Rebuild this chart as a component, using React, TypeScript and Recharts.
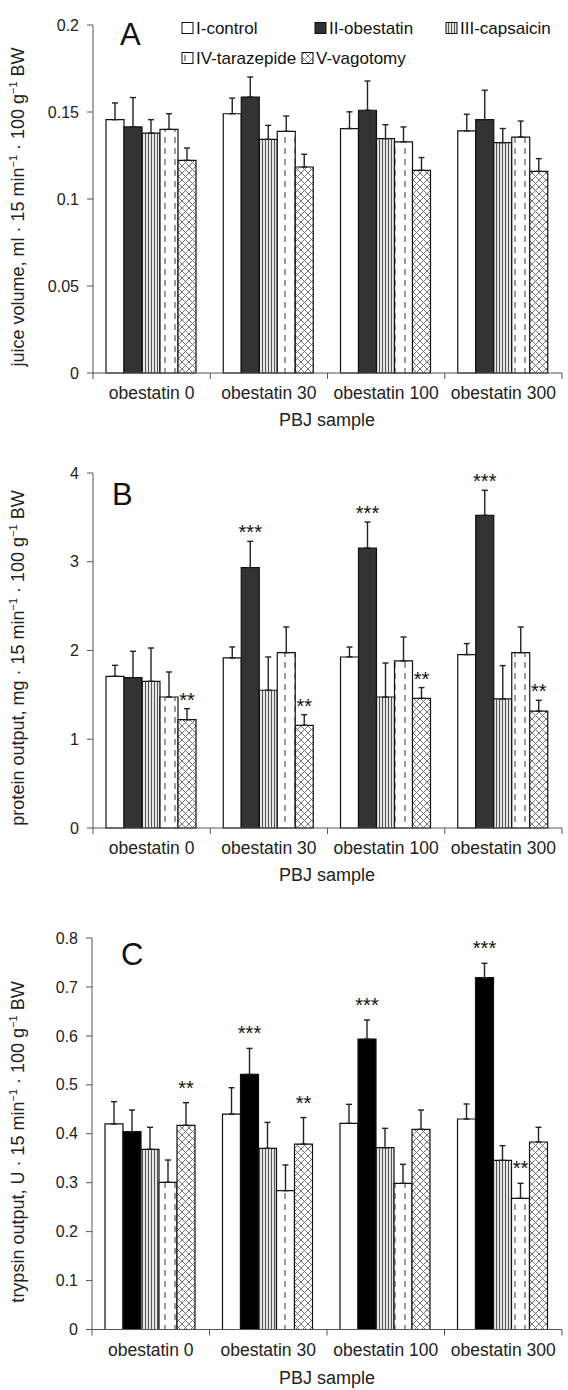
import React from 'react';
import { BarChart, Bar, XAxis, YAxis, ErrorBar, LabelList } from 'recharts';

const categories = ['obestatin 0', 'obestatin 30', 'obestatin 100', 'obestatin 300'];
const groups = ['I-control', 'II-obestatin', 'III-capsaicin', 'IV-tarazepide', 'V-vagotomy'];

// A - juice volume
const juiceControl = [0.1456, 0.149, 0.1405, 0.1391];
const juiceObestatin = [0.1414, 0.1586, 0.151, 0.1456];
const juiceCapsaicin = [0.1379, 0.1343, 0.1347, 0.1324];
const juiceTarazepide = [0.14, 0.1389, 0.1328, 0.1356];
const juiceVagotomy = [0.1222, 0.1184, 0.1165, 0.1159];
const juiceControlErr = [0.0096, 0.009, 0.0096, 0.0096];
const juiceObestatinErr = [0.0169, 0.0115, 0.0168, 0.0169];
const juiceCapsaicinErr = [0.0077, 0.008, 0.008, 0.0081];
const juiceTarazepideErr = [0.009, 0.0088, 0.0086, 0.0092];
const juiceVagotomyErr = [0.0071, 0.0073, 0.0073, 0.0073];

// B - protein output
const proteinControl = [1.709, 1.916, 1.927, 1.954];
const proteinObestatin = [1.694, 2.934, 3.155, 3.523];
const proteinCapsaicin = [1.653, 1.552, 1.476, 1.454];
const proteinTarazepide = [1.476, 1.976, 1.882, 1.976];
const proteinVagotomy = [1.221, 1.157, 1.461, 1.318];
const proteinControlErr = [0.124, 0.124, 0.112, 0.124];
const proteinObestatinErr = [0.297, 0.296, 0.293, 0.282];
const proteinCapsaicinErr = [0.375, 0.375, 0.383, 0.376];
const proteinTarazepideErr = [0.282, 0.289, 0.27, 0.289];
const proteinVagotomyErr = [0.124, 0.12, 0.121, 0.121];
const proteinObestatinSig = ['', '***', '***', '***'];
const proteinVagotomySig = ['**', '**', '**', '**'];

// C - trypsin output
const trypsinControl = [0.42, 0.4403, 0.4213, 0.4301];
const trypsinObestatin = [0.4042, 0.5214, 0.5936, 0.7189];
const trypsinCapsaicin = [0.3682, 0.3702, 0.3715, 0.3457];
const trypsinTarazepide = [0.3008, 0.2837, 0.2987, 0.2681];
const trypsinVagotomy = [0.4172, 0.379, 0.409, 0.3831];
const trypsinControlErr = [0.0456, 0.0538, 0.0388, 0.0307];
const trypsinObestatinErr = [0.0443, 0.053, 0.0388, 0.0294];
const trypsinCapsaicinErr = [0.045, 0.053, 0.0396, 0.03];
const trypsinTarazepideErr = [0.0455, 0.0525, 0.0388, 0.0306];
const trypsinVagotomyErr = [0.0463, 0.054, 0.0395, 0.03];
const trypsinObestatinSig = ['', '***', '***', '***'];
const trypsinTarazepideSig = ['', '', '', '**'];
const trypsinVagotomySig = ['**', '**', '', ''];

const juiceTicks = [0, 0.05, 0.1, 0.15, 0.2];
const proteinTicks = [0, 1, 2, 3, 4];
const trypsinTicks = [0, 0.1, 0.2, 0.3, 0.4, 0.5, 0.6, 0.7, 0.8];

const FONT = '"Liberation Sans", Arial, sans-serif';
const AXIS = '#555';
const noSig = ['', '', '', ''];

function Patterns({ id }: { id: string }) {
  return (
    <defs>
      <pattern id={`${id}-stripe`} patternUnits="userSpaceOnUse" width="3" height="4">
        <rect width="3" height="4" fill="#fff" />
        <line x1="1.5" y1="0" x2="1.5" y2="4" stroke="#555" strokeWidth="1.3" />
      </pattern>
      <pattern id={`${id}-dash`} patternUnits="userSpaceOnUse" width="10" height="11">
        <rect width="10" height="11" fill="#fff" />
        <line x1="5" y1="0" x2="5" y2="6" stroke="#666" strokeWidth="1.3" />
      </pattern>
      <pattern id={`${id}-cross`} patternUnits="userSpaceOnUse" width="7" height="7">
        <rect width="7" height="7" fill="#fff" />
        <path d="M0 0L7 7M7 0L0 7" stroke="#666" strokeWidth="0.9" />
      </pattern>
    </defs>
  );
}

const fillsFor = (id: string, dark: string) => [
  '#fff',
  dark,
  `url(#${id}-stripe)`,
  `url(#${id}-dash)`,
  `url(#${id}-cross)`,
];

type PanelProps = {
  id: string;
  values: number[][];
  errors: number[][];
  sigs: string[][];
  ticks: number[];
  plotTop: number;
  plotBottom: number;
  axisX: number;
  dark: string;
  sigGap: number;
};

function Panel({ id, values, errors, sigs, ticks, plotTop, plotBottom, axisX, dark, sigGap }: PanelProps) {
  const right = 562;
  const top = plotTop - 20;
  const height = plotBottom - top + 45;
  const bw = (right - axisX) / categories.length;
  const fills = fillsFor(id, dark);

  const data = categories.map((name, i) => {
    const row: any = { name };
    values.forEach((s, k) => {
      row[`v${k}`] = s[i];
      row[`e${k}`] = [0, errors[k][i]];
      row[`s${k}`] = sigs[k][i];
    });
    return row;
  });

  const tick = (p: any) => {
    const { x, y, payload, index } = p;
    return (
      <g>
        <line x1={x - bw / 2} y1={y} x2={x - bw / 2} y2={y + 6} stroke={AXIS} />
        {index === categories.length - 1 && (
          <line x1={x + bw / 2} y1={y} x2={x + bw / 2} y2={y + 6} stroke={AXIS} />
        )}
        <text x={x} y={y + 26} textAnchor="middle" fontSize={17.5} fill="#222">
          {payload.value}
        </text>
      </g>
    );
  };

  const sigLabel = (k: number) => (p: any) => {
    const { x, y, width, height: h, value, index } = p;
    if (!value) return null;
    const v = values[k][index];
    const errTop = y - (h / v) * errors[k][index];
    return (
      <text x={x + width / 2} y={errTop - sigGap + 11} textAnchor="middle" fontSize={20} fill="#111">
        {value}
      </text>
    );
  };

  return (
    <div style={{ position: 'absolute', left: 0, top }}>
      <BarChart
        width={568}
        height={height}
        data={data}
        margin={{ top: 20, right: 568 - right, left: 0, bottom: 5 }}
        barCategoryGap={13}
        barGap={0}
      >
        <Patterns id={id} />
        <XAxis
          dataKey="name"
          height={40}
          interval={0}
          tickSize={0}
          tickMargin={0}
          tick={tick}
          axisLine={{ stroke: AXIS }}
        />
        <YAxis
          width={axisX}
          domain={[ticks[0], ticks[ticks.length - 1]]}
          ticks={ticks}
          interval={0}
          tickSize={6}
          tickMargin={8}
          axisLine={{ stroke: AXIS }}
          tickLine={{ stroke: AXIS }}
          tick={{ fontSize: 16, fill: '#222' }}
        />
        {groups.map((g, k) => (
          <Bar
            key={g}
            dataKey={`v${k}`}
            name={g}
            fill={fills[k]}
            stroke="#111"
            strokeWidth={1.2}
            isAnimationActive={false}
          >
            <ErrorBar dataKey={`e${k}`} width={3} stroke="#222" strokeWidth={1.4} isAnimationActive={false} />
            <LabelList dataKey={`s${k}`} content={sigLabel(k)} />
          </Bar>
        ))}
      </BarChart>
    </div>
  );
}

const legendItems = [
  { x: 182, row: 0 },
  { x: 315, row: 0 },
  { x: 446, row: 0 },
  { x: 182, row: 1 },
  { x: 302, row: 1 },
];

function YLabel({ cx, cy, what, unit }: { cx: number; cy: number; what: string; unit: string }) {
  return (
    <text transform={`translate(${cx},${cy}) rotate(-90)`} textAnchor="middle" fontSize={18} fill="#222">
      {what}, {unit} · 15 min
      <tspan dy={-7} fontSize={11}>−1</tspan>
      <tspan dy={7}> · 100 g</tspan>
      <tspan dy={-7} fontSize={11}>−1</tspan>
      <tspan dy={7}> BW</tspan>
    </text>
  );
}

function Overlay() {
  const fills = fillsFor('lg', '#333');
  return (
    <svg
      width={568}
      height={1390}
      style={{ position: 'absolute', left: 0, top: 0, pointerEvents: 'none' }}
    >
      <Patterns id="lg" />
      {legendItems.map((it, k) => {
        const cy = it.row === 0 ? 28 : 58;
        return (
          <g key={k}>
            <rect x={it.x} y={cy - 5.5} width={11} height={11} fill={fills[k]} stroke="#111" strokeWidth={1} />
            <text x={it.x + 14} y={cy + 6} fontSize={17} fill="#111">
              {groups[k]}
            </text>
          </g>
        );
      })}
      <text x={120} y={45} fontSize={31} fill="#111">A</text>
      <text x={112} y={505} fontSize={31} fill="#111">B</text>
      <text x={121} y={965} fontSize={31} fill="#111">C</text>
      <YLabel cx={24} cy={207} what="juice volume" unit="ml" />
      <YLabel cx={24} cy={658} what="protein output" unit="mg" />
      <YLabel cx={24} cy={1142} what="trypsin output" unit="U" />
      <text x={327} y={426} textAnchor="middle" fontSize={18} fill="#222">PBJ sample</text>
      <text x={327} y={881} textAnchor="middle" fontSize={18} fill="#222">PBJ sample</text>
      <text x={327} y={1384} textAnchor="middle" fontSize={18} fill="#222">PBJ sample</text>
    </svg>
  );
}

export default function App() {
  return (
    <div
      style={{
        position: 'absolute',
        left: 0,
        top: 0,
        width: 568,
        height: 1390,
        background: '#fff',
        overflow: 'hidden',
        fontFamily: FONT,
      }}
    >
      <Panel
        id="pa"
        values={[juiceControl, juiceObestatin, juiceCapsaicin, juiceTarazepide, juiceVagotomy]}
        errors={[juiceControlErr, juiceObestatinErr, juiceCapsaicinErr, juiceTarazepideErr, juiceVagotomyErr]}
        sigs={[noSig, noSig, noSig, noSig, noSig]}
        ticks={juiceTicks}
        plotTop={24.7}
        plotBottom={372.7}
        axisX={93}
        dark="#333"
        sigGap={13}
      />
      <Panel
        id="pb"
        values={[proteinControl, proteinObestatin, proteinCapsaicin, proteinTarazepide, proteinVagotomy]}
        errors={[proteinControlErr, proteinObestatinErr, proteinCapsaicinErr, proteinTarazepideErr, proteinVagotomyErr]}
        sigs={[noSig, proteinObestatinSig, noSig, noSig, proteinVagotomySig]}
        ticks={proteinTicks}
        plotTop={472.7}
        plotBottom={827.7}
        axisX={93}
        dark="#333"
        sigGap={13}
      />
      <Panel
        id="pc"
        values={[trypsinControl, trypsinObestatin, trypsinCapsaicin, trypsinTarazepide, trypsinVagotomy]}
        errors={[trypsinControlErr, trypsinObestatinErr, trypsinCapsaicinErr, trypsinTarazepideErr, trypsinVagotomyErr]}
        sigs={[noSig, trypsinObestatinSig, noSig, trypsinTarazepideSig, trypsinVagotomySig]}
        ticks={trypsinTicks}
        plotTop={938}
        plotBottom={1329.5}
        axisX={92}
        dark="#000"
        sigGap={19}
      />
      <Overlay />
    </div>
  );
}
